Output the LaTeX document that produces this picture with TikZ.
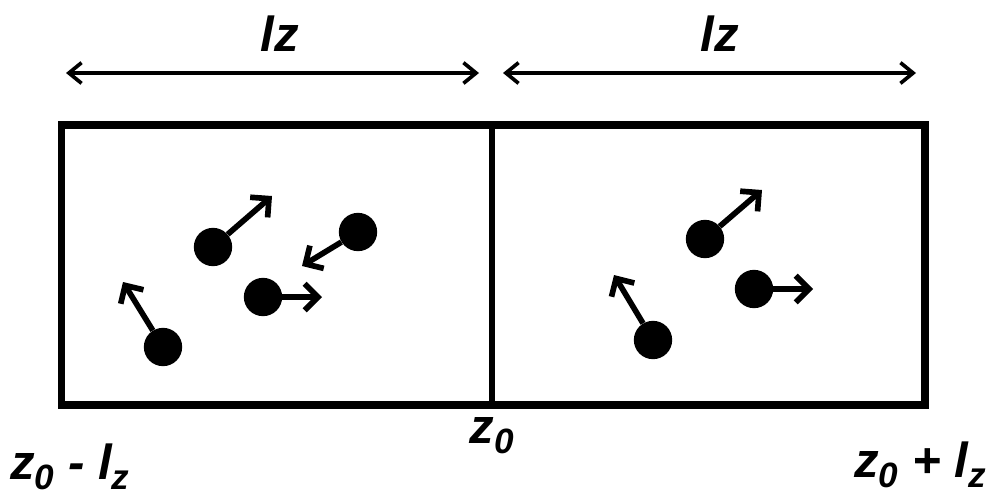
\documentclass[tikz,border=0pt]{standalone}
\usepackage{fontspec}
\setmainfont{Liberation Sans}
\usetikzlibrary{arrows.meta}
\newcommand{\lowsub}[1]{\raisebox{-0.22em}{\fontsize{30}{32}\selectfont #1}}
\tikzset{
  wall/.style={line width=0.22cm},
  particle/.style={circle, fill=black, inner sep=0pt, minimum size=1.15cm},
  velocity/.style={-{Straight Barb[length=0.4cm, width=0.8cm]}, line width=0.17cm},
  span/.style={{Straight Barb[length=0.38cm, width=0.62cm]}-{Straight Barb[length=0.38cm, width=0.62cm]}, line width=0.11cm},
  lbl/.style={inner sep=0pt, anchor=base, font=\fontsize{42}{48}\selectfont\bfseries\itshape}
}
\begin{document}
\begin{tikzpicture}[x=0.03cm, y=-0.03cm]
                    \useasboundingbox (0,0) rectangle (989,499);
                    % Box
                    \draw[wall] (61.5,125) rectangle (925,405);
                    \draw[wall, line width=0.2cm] (492,125) -- (492,405);
                    % Widths
                    \coordinate (aL) at (66,73);
                    \coordinate (aM) at (479,73);
                    \coordinate (bM) at (503,73);
                    \coordinate (bR) at (916,73);
                    \draw[span] (aL) -- (aM);
                    \draw[span] (bM) -- (bR);
                    \node[lbl] (wL) at (280,51) {lz};
                    \node[lbl] (wR) at (720,51) {lz};
                    % Left-hand particles
                    \node[particle] (pA) at (213,247) {};
                    \node[particle] (pB) at (358,232) {};
                    \node[particle] (pC) at (263,297) {};
                    \node[particle] (pD) at (163,347) {};
                    \coordinate (vA) at (272,196);
                    \coordinate (vB) at (302,266);
                    \coordinate (vC) at (322,297);
                    \coordinate (vD) at (123,282);
                    \draw[velocity] (pA) -- (vA);
                    \draw[velocity] (pB) -- (vB);
                    \draw[velocity] (pC) -- (vC);
                    \draw[velocity] (pD) -- (vD);
                    % Right-hand particles
                    \node[particle] (pE) at (705,239) {};
                    \node[particle] (pF) at (754,289) {};
                    \node[particle] (pG) at (653,340) {};
                    \coordinate (vE) at (762,190);
                    \coordinate (vF) at (813,289);
                    \coordinate (vG) at (614,275);
                    \draw[velocity] (pE) -- (vE);
                    \draw[velocity] (pF) -- (vF);
                    \draw[velocity] (pG) -- (vG);
                    % Positions
                    \node[lbl, anchor=base west] (zL) at (10,479) {z\lowsub{0} - l\lowsub{z}};
                    \node[lbl] (zM) at (492,443) {z\lowsub{0}};
                    \node[lbl, anchor=base east] (zR) at (986,477) {z\lowsub{0} + l\lowsub{z}};
\end{tikzpicture}
\end{document}
